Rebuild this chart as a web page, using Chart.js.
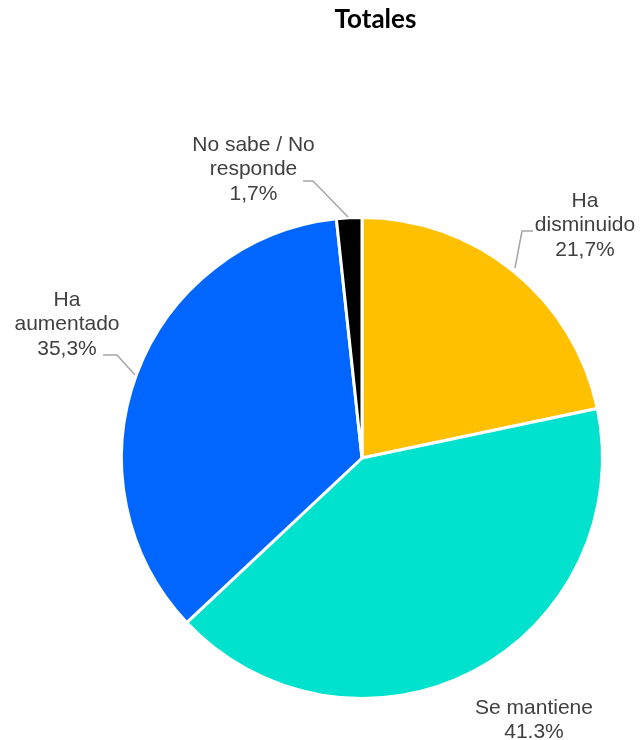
<!DOCTYPE html>
<html>
<head>
<meta charset="utf-8">
<script src="https://cdn.jsdelivr.net/npm/chart.js@4"></script>
<style>
html,body{margin:0;padding:0;background:#fff;}
#wrap{width:641px;height:740px;}
</style>
</head>
<body>
<div id="wrap"><canvas id="c" width="641" height="740"></canvas></div>
<script>
const chartTitle = "Totales";
const categories = ["Ha disminuido", "Se mantiene", "Ha aumentado", "No sabe / No responde"];
const values = [21.7, 41.3, 35.3, 1.7];
const valueLabels = ["21,7%", "41.3%", "35,3%", "1,7%"];
const labelLines = [["Ha", "disminuido"], ["Se mantiene"], ["Ha", "aumentado"], ["No sabe / No", "responde"]];
const colors = ["#FFC000", "#00E2CE", "#0066FF", "#000000"];

// label layout (text center x, first line y) and leader polylines
const labelLayout = [
  {x: 585, y: 201, line: [[533, 231], [522, 231], [515, 268]]},
  {x: 534, y: 708, line: null},
  {x: 67, y: 300, line: [[103, 355], [117, 355], [135, 375]]},
  {x: 253.5, y: 145, line: [[303, 181], [313, 181], [348, 217]]}
];

const labelPlugin = {
  id: 'pieLabels',
  afterDraw(chart) {
    const ctx = chart.ctx;
    ctx.save();
    ctx.fillStyle = '#000';
    ctx.font = 'bold 26px Lato, "DejaVu Sans", sans-serif';
    ctx.textAlign = 'center';
    ctx.textBaseline = 'middle';
    ctx.fillText(chartTitle, 375.5, 20);

    ctx.font = '21px "Liberation Sans", Arial, sans-serif';
    ctx.fillStyle = '#404040';
    const lh = 24.5;
    labelLayout.forEach((L, i) => {
      const lines = labelLines[i].concat([valueLabels[i]]);
      lines.forEach((t, k) => ctx.fillText(t, L.x, L.y + k * lh));
      if (L.line) {
        ctx.strokeStyle = '#A6A6A6';
        ctx.lineWidth = 1.5;
        ctx.beginPath();
        L.line.forEach((p, k) => k ? ctx.lineTo(p[0], p[1]) : ctx.moveTo(p[0], p[1]));
        ctx.stroke();
      }
    });
    ctx.restore();
  }
};

new Chart(document.getElementById('c'), {
  type: 'pie',
  data: {
    labels: categories,
    datasets: [{
      data: values,
      backgroundColor: colors,
      borderColor: '#ffffff',
      borderWidth: 3
    }]
  },
  options: {
    responsive: false,
    animation: false,
    layout: {padding: {left: 120, right: 37, top: 216, bottom: 40}},
    plugins: {
      legend: {display: false},
      title: {display: false},
      tooltip: {enabled: false}
    }
  },
  plugins: [labelPlugin]
});
</script>
</body>
</html>
